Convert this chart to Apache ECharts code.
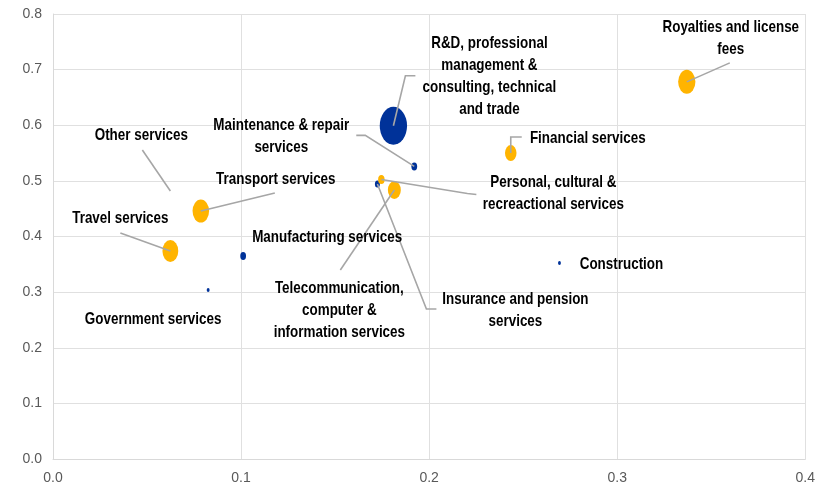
<!DOCTYPE html>
<html>
<head>
<meta charset="UTF-8">
<script src="https://cdn.jsdelivr.net/npm/echarts@6/dist/echarts.min.js"></script>
<style>
    html, body { margin: 0; padding: 0; background: #fff; }
    #chart { width: 818px; height: 491px; }
</style>
</head>
<body>
<div id="chart"></div>
<script>
// data
const categories = ['R&D', 'Royalties', 'Financial', 'Maintenance', 'Personal', 'Insurance',
    'Telecom', 'Transport', 'Other', 'Travel', 'Manufacturing', 'Government', 'Construction'];
const labelTexts = [
    'R&D, professional\nmanagement &\nconsulting, technical\nand trade',
    'Royalties and license\nfees',
    'Financial services',
    'Maintenance & repair\nservices',
    'Personal, cultural &\nrecreactional services',
    'Insurance and pension\nservices',
    'Telecommunication,\ncomputer &\ninformation services',
    'Transport services',
    'Other services',
    'Travel services',
    'Manufacturing services',
    'Government services',
    'Construction'
];
const xValues = [0.181, 0.337, 0.2434, 0.1921, 0.1746, 0.1725, 0.1815, 0.0786, 0.0624, 0.0624, 0.1011, 0.0825, 0.2693];
const yValues = [0.599, 0.678, 0.550, 0.526, 0.5025, 0.4944, 0.4836, 0.4458, 0.4818, 0.3739, 0.3649, 0.3038, 0.3524];
const bubbleSize = [14.4, 5.76, 2.56, 0.64, 0.81, 0.49, 3.24, 5.3, 0, 4.84, 0.64, 0.16, 0.16];
const group = ['blue', 'orange', 'orange', 'blue', 'orange', 'blue', 'orange', 'orange', 'orange', 'orange', 'blue', 'blue', 'blue'];
const xTicks = [0, 0.4, 0.1];
const yTicks = [0, 0.8, 0.1];

// label placement (pixel offsets from the bubble): text centre and leader line points
const labelLayout = {
    'R&D':          { text: [96, -49],  leader: [[12, -50], [22, -50]] },
    'Royalties':    { text: [44, -44],  leader: [[43, -19]] },
    'Financial':    { text: [77, -15],  leader: [[0, -16], [11, -16]] },
    'Maintenance':  { text: [-133, -30], leader: [[-49, -31], [-58, -31]] },
    'Personal':     { text: [172, 14],  leader: [[86, 14], [95, 15]] },
    'Insurance':    { text: [138, 126], leader: [[49, 125], [59, 125]] },
    'Telecom':      { text: [-55, 120], leader: [[-54, 80]] },
    'Transport':    { text: [75, -32],  leader: [[74, -18]] },
    'Other':        { text: [-29, -56], leader: [[-28, -41]] },
    'Travel':       { text: [-50, -33], leader: [[-50, -18]] },
    'Manufacturing':{ text: [84, -19],  leader: [] },
    'Government':   { text: [-55, 29],  leader: [] },
    'Construction': { text: [62, 1],    leader: [] }
};

const colors = { blue: '#003299', orange: '#ffb400' };
const sans = '"Liberation Sans", Arial, sans-serif';
const squeeze = 0.79;   // Arial Narrow look

function bubbleDims(s) {
    const h = 10 * Math.sqrt(s);
    return [h * 0.72, h];
}

function pointsOf(g) {
    const out = [];
    categories.forEach((c, i) => {
        if (group[i] === g) out.push({ name: c, value: [xValues[i], yValues[i], bubbleSize[i]] });
    });
    return out;
}

const chart = echarts.init(document.getElementById('chart'));

const axisCommon = {
    type: 'value',
    axisLine: { show: true, lineStyle: { color: '#d9d9d9', width: 1 } },
    axisTick: { show: false },
    splitLine: { show: true, lineStyle: { color: '#e0e0e0', width: 1 } },
    axisLabel: { color: '#595959', fontFamily: sans, fontSize: 14, formatter: v => v.toFixed(1) }
};

chart.setOption({
    animation: false,
    grid: { left: 53, right: 9, top: 14, bottom: 32, containLabel: false },
    xAxis: Object.assign({}, axisCommon, {
        min: xTicks[0], max: xTicks[1], interval: xTicks[2],
        axisLabel: Object.assign({}, axisCommon.axisLabel, { margin: 12 })
    }),
    yAxis: Object.assign({}, axisCommon, {
        min: yTicks[0], max: yTicks[1], interval: yTicks[2],
        axisLabel: Object.assign({}, axisCommon.axisLabel, { margin: 11 })
    }),
    series: [
        {
            type: 'scatter',
            data: pointsOf('blue'),
            symbolSize: v => bubbleDims(v[2]),
            itemStyle: { color: colors.blue, opacity: 1 },
            z: 2
        },
        {
            type: 'scatter',
            data: pointsOf('orange'),
            symbolSize: v => bubbleDims(v[2]),
            itemStyle: { color: colors.orange, opacity: 1 },
            z: 2
        },
        {
            // leader lines and labels
            type: 'custom',
            z: 5,
            clip: false,
            data: xValues.map((x, i) => [x, yValues[i], i]),
            encode: { x: 0, y: 1 },
            renderItem: function (params, api) {
                const i = api.value(2);
                const p = api.coord([api.value(0), api.value(1)]);
                const lay = labelLayout[categories[i]];
                const children = [];
                if (lay.leader.length) {
                    const pts = [p].concat(lay.leader.map(o => [p[0] + o[0], p[1] + o[1]]));
                    children.push({
                        type: 'polyline',
                        shape: { points: pts },
                        style: { stroke: '#a6a6a6', lineWidth: 1.6, fill: null }
                    });
                }
                children.push({
                    type: 'text',
                    x: p[0] + lay.text[0],
                    y: p[1] + lay.text[1],
                    scaleX: squeeze,
                    style: {
                        text: labelTexts[i],
                        fill: '#000',
                        font: 'bold 17px ' + sans,
                        lineHeight: 22,
                        align: 'center',
                        verticalAlign: 'middle'
                    }
                });
                return { type: 'group', children: children };
            }
        }
    ]
});
</script>
</body>
</html>
